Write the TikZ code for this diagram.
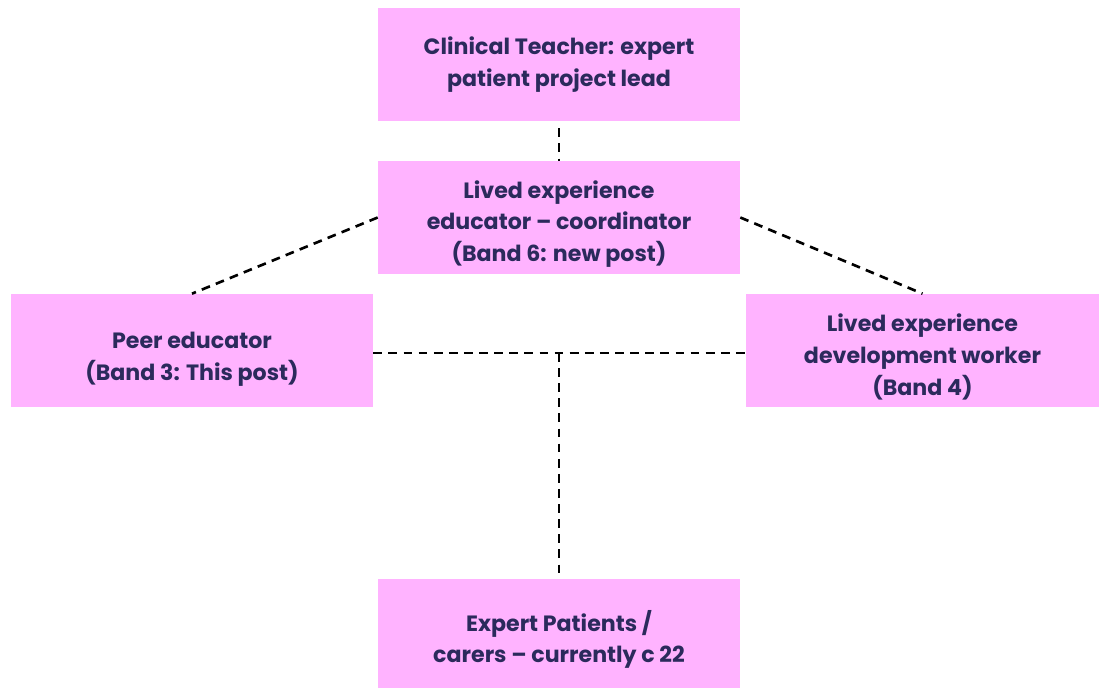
\documentclass[tikz,border=0pt]{standalone}
\usepackage{fontspec}
\setmainfont{Poppins}[BoldFont={Poppins Bold}]
\definecolor{boxpink}{HTML}{FFB3FF}
\definecolor{navytext}{HTML}{2B2A5C}
\tikzset{
  rolebox/.style={rectangle, fill=boxpink, minimum width=7.24cm, minimum height=2.26cm},
  roletext/.style={align=center, text=navytext, font=\fontsize{12.6}{18.1}\selectfont\bfseries},
  link/.style={draw=black, line width=1.5pt, dash pattern=on 5pt off 3.6pt}
}
\begin{document}
\begin{tikzpicture}[x=0.02cm, y=-0.02cm]

    \useasboundingbox (0,0) rectangle (1100,688);

    % boxes
    \node[rolebox] (lead) at (559,64.5) {};
    \node[rolebox] (coord) at (559,217.5) {};
    \node[rolebox] (peer) at (192,350.5) {};
    \node[rolebox, minimum width=7.06cm] (devworker) at (922.5,350.5) {};
    \node[rolebox] (patients) at (559,635.5) {};

    % texts
    \node[roletext] (leadtext) at (lead.center) {Clinical Teacher: expert\\patient project lead};
    \node[roletext] (coordtext) at ([yshift=-0.13cm]coord.center) {Lived experience\\educator -- coordinator\\(Band 6: new post)};
    \node[roletext] (peertext) at ([yshift=-0.18cm]peer.center) {Peer educator\\(Band 3: This post)};
    \node[roletext] (devworkertext) at ([yshift=-0.13cm]devworker.center) {Lived experience\\development worker\\(Band 4)};
    \node[roletext] (patientstext) at ([yshift=-0.08cm]patients.center) {Expert Patients /\\carers -- currently c 22};

    \coordinate (peerside) at ([yshift=-0.05cm]peer.east);
    \coordinate (devside) at ([yshift=-0.05cm]devworker.west);
    \coordinate (junction) at (patients.north |- peerside);

    \draw[link] ([yshift=-0.14cm]lead.south) -- (coord.north);
    \draw[link] (coord.west) -- (peer.north);
    \draw[link] (coord.east) -- (devworker.north);
    \draw[link] (peerside) -- (devside);
    \draw[link] (junction) -- (patients.north);
  \end{tikzpicture}
\end{document}
